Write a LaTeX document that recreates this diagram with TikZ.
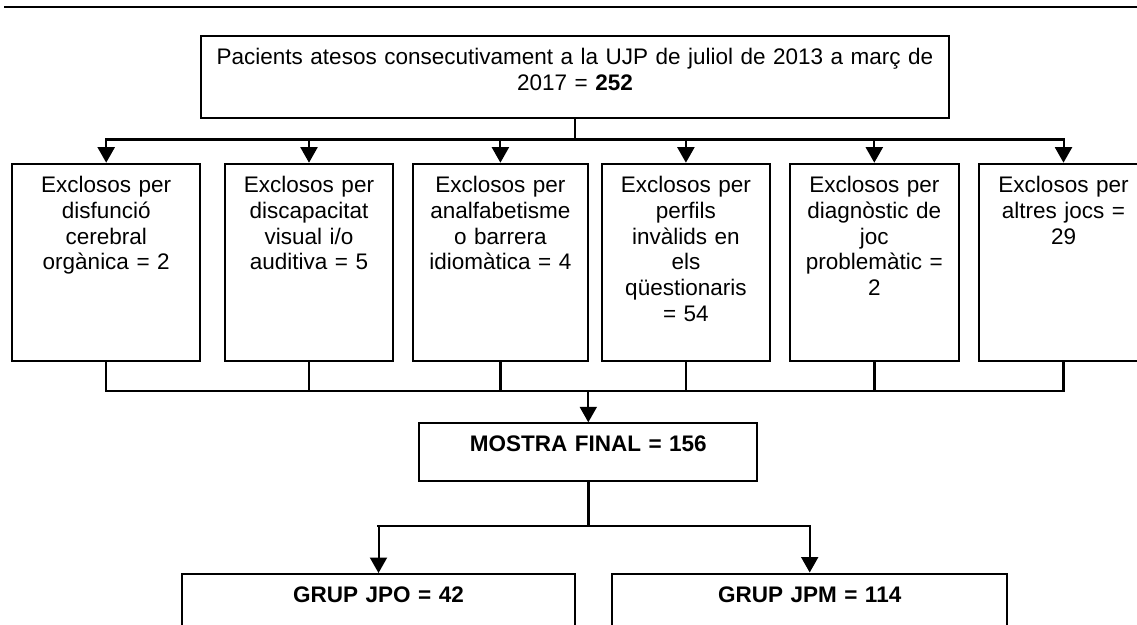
\documentclass[tikz,border=0pt]{standalone}
\usepackage{fontspec}
\setmainfont{Liberation Sans}
\usetikzlibrary{arrows.meta}

\begin{document}
\begin{tikzpicture}[x=1pt,y=-1pt,
    caixa/.style={draw, line width=2pt, inner sep=0pt, align=center, anchor=north,
      font=\fontsize{22.5}{25.9}\selectfont, text height=28.5pt},
    linia/.style={line width=2.4pt, line cap=rect},
    fletxa/.style={line width=2pt, -{Triangle[width=17pt,length=15.5pt]}}]
  \useasboundingbox (0,0) rectangle (1137,624);
  \clip (0,0) rectangle (1137,624);
  \draw[line width=2.2pt] (4,7.3) -- (1137,7.3);
  % pacients
  \node[caixa, text width=748pt, text depth=53.2pt] (pacients) at (575,35)
    {Pacients atesos consecutivament a la UJP de juliol de 2013 a març de\\2017 = \textbf{252}};
  % exclosos
  \node[caixa, text width=187.7pt, text depth=168.3pt] (e1) at (106.2,162.7)
    {Exclosos per\\disfunció\\cerebral\\orgànica = 2};
  \node[caixa, text width=168pt, text depth=168.3pt] (e2) at (309,162.7)
    {Exclosos per\\discapacitat\\visual i/o\\auditiva = 5};
  \node[caixa, text width=175.3pt, text depth=168.3pt] (e3) at (500.4,162.7)
    {Exclosos per\\analfabetisme\\o barrera\\idiomàtica = 4};
  \node[caixa, text width=168.3pt, text depth=168.3pt] (e4) at (685.9,162.7)
    {Exclosos per\\perfils\\invàlids en\\els\\qüestionaris\\= 54};
  \node[caixa, text width=168.6pt, text depth=168.3pt] (e5) at (874.3,162.7)
    {Exclosos per\\diagnòstic de\\joc\\problemàtic =\\2};
  \node[caixa, text width=170pt, text depth=168.3pt] (e6) at (1063.5,162.7)
    {Exclosos per\\altres jocs =\\29};
  % mostra i grups
  \node[caixa, text width=338pt, text depth=29.2pt] (mostra) at (588.3,422.3)
    {\textbf{MOSTRA FINAL = 156}};
  \node[caixa, text width=393pt, text depth=120pt] (jpo) at (378.5,573)
    {\textbf{GRUP JPO = 42}};
  \node[caixa, text width=394.7pt, text depth=120pt] (jpm) at (809.7,572.5)
    {\textbf{GRUP JPM = 114}};

  \coordinate (bdalt) at (575,139.5);
  \coordinate (bdbaix) at (588.3,391);
  \coordinate (bdgrup) at (588.3,526);
  \draw[linia] (pacients.south) -- (bdalt);
  \draw[linia] (e1.north |- bdalt) -- (e6.north |- bdalt);
  \foreach \i in {1,...,6}
    \draw[fletxa] (e\i.north |- bdalt) -- (e\i.north);
  \foreach \i in {1,...,6}
    \draw[linia] (e\i.south) -- (e\i.south |- bdbaix);
  \draw[linia] (e1.south |- bdbaix) -- (e6.south |- bdbaix);
  \draw[fletxa] (bdbaix) -- (mostra.north);
  \draw[linia] (mostra.south) -- (bdgrup);
  \draw[linia] (jpo.north |- bdgrup) -- (jpm.north |- bdgrup);
  \draw[fletxa] (jpo.north |- bdgrup) -- (jpo.north);
  \draw[fletxa] (jpm.north |- bdgrup) -- (jpm.north);
\end{tikzpicture}
\end{document}
